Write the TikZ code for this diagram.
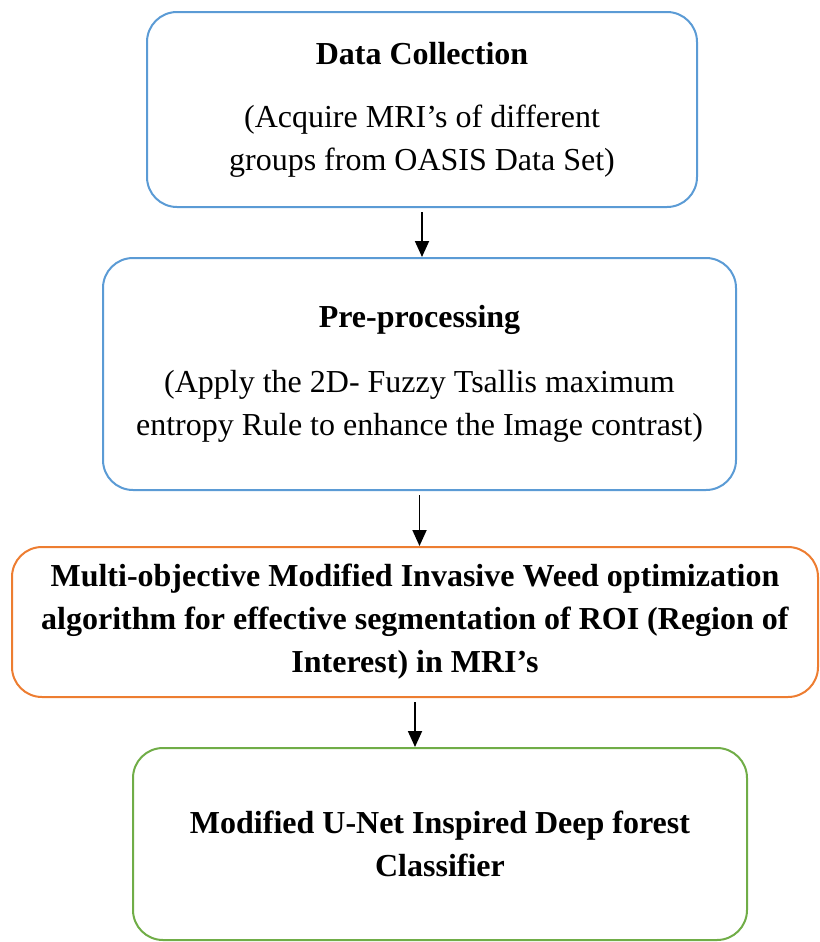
\documentclass[tikz,border=0pt]{standalone}
\usepackage{fontspec}
\setmainfont{Liberation Serif}
\usetikzlibrary{arrows.meta}
\definecolor{boxblue}{RGB}{91,155,213}
\definecolor{boxorange}{RGB}{237,125,49}
\definecolor{boxgreen}{RGB}{112,173,71}
\begin{document}
\begin{tikzpicture}[
    x=0.5pt, y=-0.5pt,
    >={Triangle[length=8pt,width=7pt]},
    stage/.style={draw,rounded corners=15pt,line width=1pt,align=center,inner sep=0pt,
      font=\fontsize{16}{21.5}\selectfont},
    flow/.style={->,line width=0.9pt,shorten <=2pt}
    ]
    \useasboundingbox (0,0) rectangle (819,942);

    % stages
    \node[stage,draw=boxblue,minimum width=275pt,minimum height=97.5pt] (collect) at (422,109.5)
      {\textbf{Data Collection}\\[10pt]
       (Acquire MRI’s of different\\ groups from OASIS Data Set)};
    \node[stage,draw=boxblue,minimum width=316.5pt,minimum height=116pt] (prep) at (419.5,374)
      {\textbf{Pre-processing}\\[11pt]
       (Apply the 2D- Fuzzy Tsallis maximum\\ entropy Rule to enhance the Image contrast)};
    \node[stage,draw=boxorange,minimum width=403pt,minimum height=75pt] (seg) at (415,622)
      {\textbf{Multi-objective Modified Invasive Weed optimization}\\
       \textbf{algorithm for effective segmentation of ROI (Region of}\\
       \textbf{Interest) in MRI’s}};
    \node[stage,draw=boxgreen,minimum width=307pt,minimum height=96pt] (clf) at (440,844)
      {\textbf{Modified U-Net Inspired Deep forest}\\ \textbf{Classifier}};

    % arrows
    \draw [flow] (collect.south) to (collect.south |- prep.north);
    \draw [flow] (prep.south) to (prep.south |- seg.north);
    \draw [flow] (seg.south) to (seg.south |- clf.north);
  \end{tikzpicture}
\end{document}
